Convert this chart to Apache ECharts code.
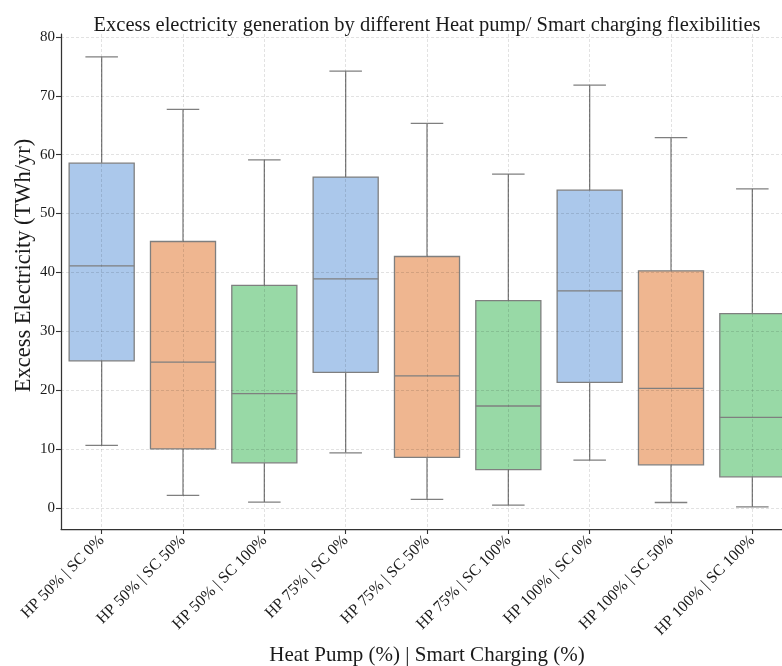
<!DOCTYPE html>
<html>
<head>
<meta charset="utf-8">
<script src="https://cdn.jsdelivr.net/npm/echarts@6/dist/echarts.min.js"></script>
<style>
html,body{margin:0;padding:0;background:#fff;}
#chart{width:782px;height:666px;}
</style>
</head>
<body>
<div id="chart"></div>
<script>
// ---- data ----
const categories = [
  'HP 50% | SC 0%', 'HP 50% | SC 50%', 'HP 50% | SC 100%',
  'HP 75% | SC 0%', 'HP 75% | SC 50%', 'HP 75% | SC 100%',
  'HP 100% | SC 0%', 'HP 100% | SC 50%', 'HP 100% | SC 100%'
];
const whiskerLow  = [10.6, 2.1, 0.97, 9.35, 1.42, 0.46, 8.1, 0.9, 0.17];
const q1Values    = [24.97, 10.0, 7.65, 23.0, 8.56, 6.5, 21.3, 7.3, 5.27];
const medianValues= [41.1, 24.75, 19.4, 38.9, 22.43, 17.3, 36.86, 20.28, 15.36];
const q3Values    = [58.55, 45.25, 37.8, 56.2, 42.7, 35.2, 53.97, 40.26, 33.0];
const whiskerHigh = [76.6, 67.7, 59.1, 74.18, 65.3, 56.7, 71.8, 62.9, 54.2];
const yTicks = [0, 10, 20, 30, 40, 50, 60, 70, 80];
const xTicks = [0, 1, 2, 3, 4, 5, 6, 7, 8];
const palette = ['#abc8eb', '#efb690', '#98d9a6'];

const boxData = categories.map((c, i) => [i, whiskerLow[i], q1Values[i], medianValues[i], q3Values[i], whiskerHigh[i]]);

const edge = '#7f7f7f';
const serif = '"Liberation Serif", "DejaVu Serif", serif';

function renderBox(params, api) {
  const x = api.value(0);
  const band = api.size([1, 0])[0];
  const boxW = band * 0.8;
  const capW = boxW / 2;
  const pMin = api.coord([x, api.value(1)]);
  const pQ1 = api.coord([x, api.value(2)]);
  const pMed = api.coord([x, api.value(3)]);
  const pQ3 = api.coord([x, api.value(4)]);
  const pMax = api.coord([x, api.value(5)]);
  const cx = pMed[0];
  const ls = { stroke: edge, lineWidth: 1.3 };
  const color = palette[params.dataIndex % 3];
  return {
    type: 'group',
    children: [
      { type: 'line', shape: { x1: cx, y1: pQ3[1], x2: cx, y2: pMax[1] }, style: ls },
      { type: 'line', shape: { x1: cx, y1: pQ1[1], x2: cx, y2: pMin[1] }, style: ls },
      { type: 'line', shape: { x1: cx - capW / 2, y1: pMax[1], x2: cx + capW / 2, y2: pMax[1] }, style: ls },
      { type: 'line', shape: { x1: cx - capW / 2, y1: pMin[1], x2: cx + capW / 2, y2: pMin[1] }, style: ls },
      { type: 'rect', shape: { x: cx - boxW / 2, y: pQ3[1], width: boxW, height: pQ1[1] - pQ3[1] },
        style: { fill: color, stroke: edge, lineWidth: 1.3 } },
      { type: 'line', shape: { x1: cx - boxW / 2, y1: pMed[1], x2: cx + boxW / 2, y2: pMed[1] }, style: ls }
    ]
  };
}

const chart = echarts.init(document.getElementById('chart'));
chart.setOption({
  backgroundColor: '#ffffff',
  animation: false,
  title: {
    text: 'Excess electricity generation by different Heat pump/ Smart charging flexibilities',
    left: 422, top: 10, textAlign: 'center',
    textStyle: { fontFamily: serif, fontSize: 20.5, fontWeight: 'normal', color: '#1a1a1a' }
  },
  grid: { left: 61, top: 34, width: 732, height: 495, outerBoundsMode: 'none', containLabel: false },
  xAxis: {
    type: 'value', min: -0.5, max: 8.5, z: 3,
    name: 'Heat Pump (%) | Smart Charging (%)',
    nameLocation: 'middle', nameGap: 115,
    nameTextStyle: { fontFamily: serif, fontSize: 21, color: '#1a1a1a' },
    axisLine: { show: true, onZero: false, lineStyle: { color: '#333', width: 1.25 } },
    axisTick: { show: true, customValues: xTicks, length: 5, lineStyle: { color: '#333', width: 1.1 } },
    axisLabel: {
      customValues: xTicks, rotate: 45, margin: 9, hideOverlap: false,
      fontFamily: serif, fontSize: 16, color: '#1a1a1a',
      formatter: v => categories[Math.round(v)] || ''
    },
    splitLine: { show: true, lineStyle: { color: 'rgba(0,0,0,0.13)', type: [3, 2], width: 0.9 } }
  },
  yAxis: {
    type: 'value', min: -3.6, max: 80.5, z: 3,
    name: 'Excess Electricity (TWh/yr)',
    nameLocation: 'middle', nameGap: 25, nameRotate: 90, nameMoveOverlap: false,
    nameTextStyle: { fontFamily: serif, fontSize: 22.5, color: '#1a1a1a', padding: [0, 0, 0, 32] },
    axisLine: { show: true, onZero: false, lineStyle: { color: '#333', width: 1.25 } },
    axisTick: { show: true, customValues: yTicks, length: 5, lineStyle: { color: '#333', width: 1.1 } },
    axisLabel: { customValues: yTicks, margin: 6, fontFamily: serif, fontSize: 15, color: '#1a1a1a' },
    splitLine: { show: true, lineStyle: { color: 'rgba(0,0,0,0.13)', type: [3, 2], width: 0.9 } }
  },
  series: [{
    type: 'custom',
    renderItem: renderBox,
    data: boxData,
    encode: { x: 0, y: [1, 2, 3, 4, 5] },
    z: 1,
    clip: false
  }]
});
</script>
</body>
</html>
